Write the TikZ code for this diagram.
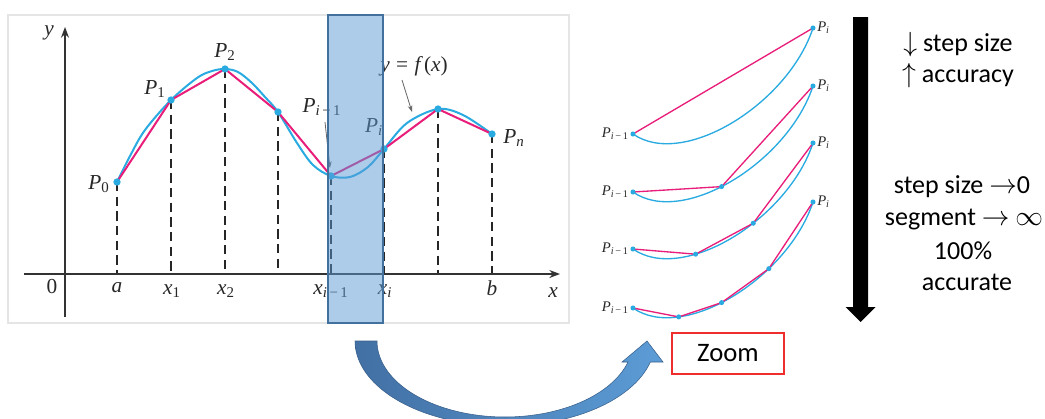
\documentclass[tikz,border=0pt]{standalone}
\usepackage{fontspec}
\setmainfont{Carlito}
\newfontfamily\tms{Liberation Serif}
\usetikzlibrary{arrows.meta}
\definecolor{curvec}{RGB}{41,171,226}
\definecolor{chordc}{RGB}{233,30,122}
\definecolor{bandfill}{RGB}{91,155,213}
\definecolor{bandedge}{RGB}{65,113,156}
\definecolor{arrowdark}{RGB}{66,112,164}
\definecolor{arrowlight}{RGB}{92,156,214}
\definecolor{zoomred}{RGB}{240,45,45}
\definecolor{labc}{RGB}{40,40,40}
\newcommand\Pl[1]{{\itshape P}\textsubscript{#1}}
\newcommand\Xl[1]{{\itshape x}\textsubscript{#1}}
\begin{document}
\begin{tikzpicture}[x=0.75pt,y=-0.75pt,
  fcurve/.style={draw=curvec,line width=1.5pt},
  chordline/.style={draw=chordc,line width=1.5pt},
  pdot/.style={circle,fill=curvec,inner sep=0pt,minimum size=5.5pt},
  dropline/.style={draw=black!85,line width=1.4pt,dash pattern=on 7pt off 4pt},
  axisline/.style={draw=black!80,line width=1.1pt,-{Stealth[length=8pt,width=6pt]}},
  lab/.style={font=\tms\fontsize{16}{18}\selectfont,text=labc,inner sep=0pt},
  pointer/.style={draw=black!60,line width=0.6pt,-{Stealth[length=5pt,width=3.5pt]}},
  zcurve/.style={draw=curvec,line width=1pt},
  zchord/.style={draw=chordc,line width=1pt},
  zdot/.style={circle,fill=curvec,inner sep=0pt,minimum size=3.8pt},
  zlab/.style={font=\tms\fontsize{11}{12}\selectfont,text=labc,inner sep=0pt},
  notetext/.style={font=\fontsize{19.5}{22}\selectfont,inner sep=0pt}]
\useasboundingbox (0,0) rectangle (1045,418);
\clip (0,0) rectangle (1045,418);
\fill[white] (0,0) rectangle (1045,418);
% graph frame
\draw[black!10,line width=0.8pt] (8,15) rectangle (569,323);
% points
\coordinate (p0) at (117,182);
\coordinate (p1) at (171,100);
\coordinate (p2) at (225,69);
\coordinate (p3) at (278,112);
\coordinate (pim) at (331,176);
\coordinate (pi) at (384,149);
\coordinate (p6) at (438,109);
\coordinate (pn) at (492,134);
\coordinate (xl) at (24,274);
\coordinate (xr) at (560,274);
\coordinate (yb) at (65,317);
\coordinate (yt) at (65,27);
% drop lines
\foreach \p in {p0,p1,p2,p3,pim,pi,p6,pn} \draw[dropline] (\p) -- (\p |- xl);
% axes
\draw[axisline] (xl) -- (xr);
\draw[axisline] (yb) -- (yt);
% curve and chords
\draw[fcurve] plot[smooth,tension=0.55] coordinates {(p0) (130,156) (145,130) (p1) (197,78) (212,71) (p2) (238,72) (252,83) (265,97) (p3) (297,143) (313,165) (pim) (350,177) (368,167) (pi) (407,123) (p6) (463,115) (pn)};
\draw[chordline] (p0) -- (p1) -- (p2) -- (p3) -- (pim) -- (pi) -- (p6) -- (pn);
\foreach \p in {p0,p1,p2,p3,pim,pi,p6,pn} \node[pdot] (d\p) at (\p) {};
% labels
\node[lab] (ly) at (49,33) {\itshape y};
\node[lab] (lxx) at (553,293) {\itshape x};
\node[lab] (lo) at (52,287) {0};
\node[lab] (la) at (117,288) {\itshape a};
\node[lab] (lx1) at (172,291) {\Xl{1}};
\node[lab] (lx2) at (226,291) {\Xl{2}};
\node[lab] (lxim) at (331,291) {\Xl{{\itshape i}\,−\,1}};
\node[lab] (lxi) at (385,291) {\Xl{\itshape i}};
\node[lab] (lb) at (492,288) {\itshape b};
\node[lab] (lp0) at (99,184) {\Pl{0}};
\node[lab] (lp1) at (155,89) {\Pl{1}};
\node[lab] (lp2) at (225,52) {\Pl{2}};
\node[lab] (lpim) at (322,107) {\Pl{{\itshape i}\,−\,1}};
\node[lab] (lpi) at (374,127) {\Pl{\itshape i}};
\node[lab] (lpn) at (514,138) {\Pl{\itshape n}};
\node[lab] (lf) at (414,66) {{\itshape y}\hspace{0.3em}=\hspace{0.3em}{\itshape f}\,({\itshape x})};
\coordinate (fa) at (402,80);
\coordinate (fb) at (412,112);
\coordinate (ga) at (325,122);
\coordinate (gb) at (330,168);
\draw[pointer] (fa) -- (fb);
\draw[pointer] (ga) -- (gb);
% highlighted strip
\draw[fill=bandfill,fill opacity=0.5,draw=bandedge,line width=1.1pt] (328,15) rectangle (383,323);
% zoomed segments
\foreach \yy/\k in {134/1,192/2,249/3,308/4} {
  \coordinate (s\k) at (633,\yy);
  \coordinate (e\k) at (813,\yy-106);
}
\draw[zcurve] (s1) .. controls +(50,35) and +(-25,76) .. (e1);
\draw[zcurve] (s2) .. controls +(50,35) and +(-25,76) .. (e2) coordinate[pos=0.45] (m21);
\draw[zcurve] (s3) .. controls +(50,35) and +(-25,76) .. (e3) coordinate[pos=0.33] (m31) coordinate[pos=0.6] (m32);
\draw[zcurve] (s4) .. controls +(50,35) and +(-25,76) .. (e4) coordinate[pos=0.25] (m41) coordinate[pos=0.45] (m42) coordinate[pos=0.68] (m43);
\draw[zchord] (s1) -- (e1);
\draw[zchord] (s2) -- (m21) -- (e2);
\draw[zchord] (s3) -- (m31) -- (m32) -- (e3);
\draw[zchord] (s4) -- (m41) -- (m42) -- (m43) -- (e4);
\foreach \p in {s1,e1,s2,m21,e2,s3,m31,m32,e3,s4,m41,m42,m43,e4} \node[zdot] (z\p) at (\p) {};
\foreach \k in {1,2,3,4} {
  \node[zlab,anchor=east] (ls\k) at ([xshift=-3pt]s\k) {\Pl{{\itshape i}\,−\,1}};
  \node[zlab,anchor=west] (le\k) at ([xshift=3pt]e\k) {\Pl{\itshape i}};
}
% big down arrow
\fill[black] (853,17) -- (868,17) -- (868,307) -- (875.5,307) -- (860.5,322) -- (845.5,307) -- (853,307) -- cycle;
% notes
\node[notetext] (t1) at (958,45) {$\downarrow$ step size};
\node[notetext] (t2) at (958,76) {$\uparrow$ accuracy};
\node[notetext] (t3) at (962,187) {step size $\rightarrow$0};
\node[notetext] (t4) at (964,220) {segment $\rightarrow$ $\infty$};
\node[notetext] (t5) at (963,251) {100\%};
\node[notetext] (t6) at (967,282) {accurate};
% zoom box
\node[draw=zoomred,line width=1.2pt,minimum width=84pt,minimum height=30.75pt,inner sep=0pt,font=\fontsize{20}{23}\selectfont] (zb) at (728,353.5) {Zoom};
% curved arrow
\shadedraw[left color=arrowdark,right color=arrowlight,draw=arrowdark!85!black,line width=0.4pt]
  plot[domain=180:14.3,samples=70] ({505+150*cos(\x)},{341+85*sin(\x)})
  -- (663,362) -- (647,341) -- (622,362)
  -- plot[domain=16.04:180,samples=70] ({505+128*cos(\x)},{341+76*sin(\x)}) -- cycle;
\end{tikzpicture}
\end{document}
